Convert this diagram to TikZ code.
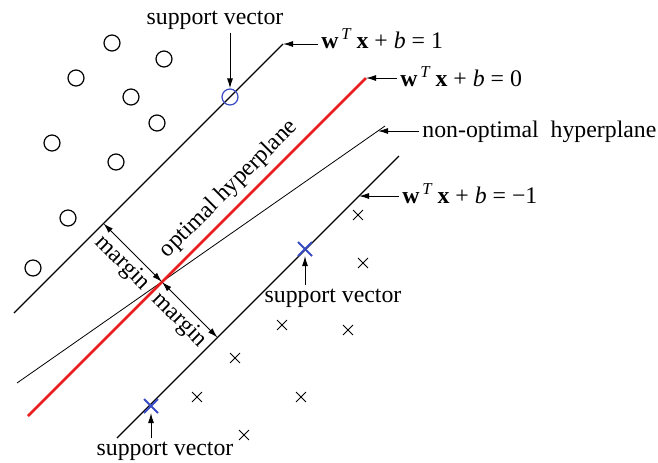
\documentclass[tikz,border=0pt]{standalone}
\usepackage{fontspec}
\setmainfont{Liberation Serif}
\usetikzlibrary{arrows.meta,shapes.misc}
\definecolor{svblue}{RGB}{55,75,195}
\definecolor{hypred}{RGB}{235,30,30}

\begin{document}
\begin{tikzpicture}[
    x=0.5pt, y=-0.5pt,
    lbl/.style={font=\fontsize{11.9}{14}\selectfont, inner sep=0pt},
    eqn/.style={lbl, inner xsep=1.5pt},
    ptO/.style={draw, circle, minimum size=8pt, inner sep=0pt, line width=0.6pt},
    ptX/.style={draw, cross out, minimum size=4.5pt, inner sep=0pt, line width=0.45pt},
    svO/.style={ptO, draw=svblue},
    svX/.style={ptX, draw=svblue, minimum size=6pt, line width=1pt},
    plane/.style={line width=0.6pt},
    arrow/.style={-{Latex[length=5pt, width=3pt]}, line width=0.5pt},
    dim/.style={{Latex[length=5pt, width=3pt]}-{Latex[length=5pt, width=3pt]}, line width=0.5pt}
]
\useasboundingbox (0,0) rectangle (658,462);

% hyperplanes and margins
\coordinate (up1) at (14,313);
\coordinate (up2) at (283,44);
\coordinate (opt1) at (28,416);
\coordinate (opt2) at (366,78);
\coordinate (lo1) at (117,438);
\coordinate (lo2) at (399,156);
\coordinate (nop1) at (17,383);
\coordinate (nop2) at (385,126);
\coordinate (nopTip) at (378,131);
\coordinate (loTip) at (359,196);
\coordinate (ctr) at (162,282);
\coordinate (m1) at (103.5,223.5);
\coordinate (m2) at (217.5,337.5);

\draw[plane] (up1) -- (up2);
\draw[plane] (lo1) -- (lo2);
\draw[line width=0.4pt] (nop1) -- (nop2);
\draw[hypred, line width=1.4pt] (opt1) -- node[pos=0.633, sloped, above, lbl, text=black, inner sep=3pt] (optlbl) {optimal hyperplane} (opt2);

\draw[dim] (m1) -- node[midway, sloped, below, lbl, inner sep=2pt] (mg1) {margin} (ctr);
\draw[dim] (ctr) -- node[midway, sloped, below, lbl, inner sep=2pt] (mg2) {margin} (m2);

% class o
\node[ptO] (o1) at (112,43) {};
\node[ptO] (o2) at (164,59) {};
\node[ptO] (o3) at (76,78) {};
\node[ptO] (o4) at (131,97) {};
\node[ptO] (o5) at (157,123) {};
\node[ptO] (o6) at (52,143) {};
\node[ptO] (o7) at (116,162) {};
\node[ptO] (o8) at (68,218) {};
\node[ptO] (o9) at (33,268) {};
\node[svO] (svA) at (230,97) {};

% class x
\node[ptX] (x1) at (358,215) {};
\node[ptX] (x2) at (363,263) {};
\node[ptX] (x3) at (282,325) {};
\node[ptX] (x4) at (348,330) {};
\node[ptX] (x5) at (235,358) {};
\node[ptX] (x6) at (197,397) {};
\node[ptX] (x7) at (301,397) {};
\node[ptX] (x8) at (244,435) {};
\node[svX] (svB) at (305,249) {};
\node[svX] (svC) at (151,406) {};

% support vector labels
\node[lbl, inner sep=1.5pt] (svlbl1) at (215,20) {support vector};
\node[lbl, inner sep=1.5pt] (svlbl2) at (333,298) {support vector};
\node[lbl, inner sep=1.5pt] (svlbl3) at (165,451) {support vector};
\draw[arrow] (svlbl1.south -| svA) -- (svA);
\draw[arrow] (svlbl2.north -| svB) -- (svB);
\draw[arrow] (svlbl3.north -| svC) -- (svC);

% equation labels
\node[eqn, anchor=base west] (eqp) at (318,48) {\textbf{w}\textsuperscript{\,\textit{T}}\,\textbf{x} + \textit{b} = 1};
\node[eqn, anchor=base west] (eqz) at (397,86) {\textbf{w}\textsuperscript{\,\textit{T}}\,\textbf{x} + \textit{b} = 0};
\node[eqn, anchor=base west] (noplbl) at (419,137) {non-optimal\ \ hyperplane};
\node[eqn, anchor=base west] (eqm) at (399,203) {\textbf{w}\textsuperscript{\,\textit{T}}\,\textbf{x} + \textit{b} = −1};
\draw[arrow] (eqp.west |- up2) -- (up2);
\draw[arrow] (eqz.west |- opt2) -- (opt2);
\draw[arrow] (noplbl.west |- nopTip) -- (nopTip);
\draw[arrow] (eqm.west |- loTip) -- (loTip);
\end{tikzpicture}
\end{document}
